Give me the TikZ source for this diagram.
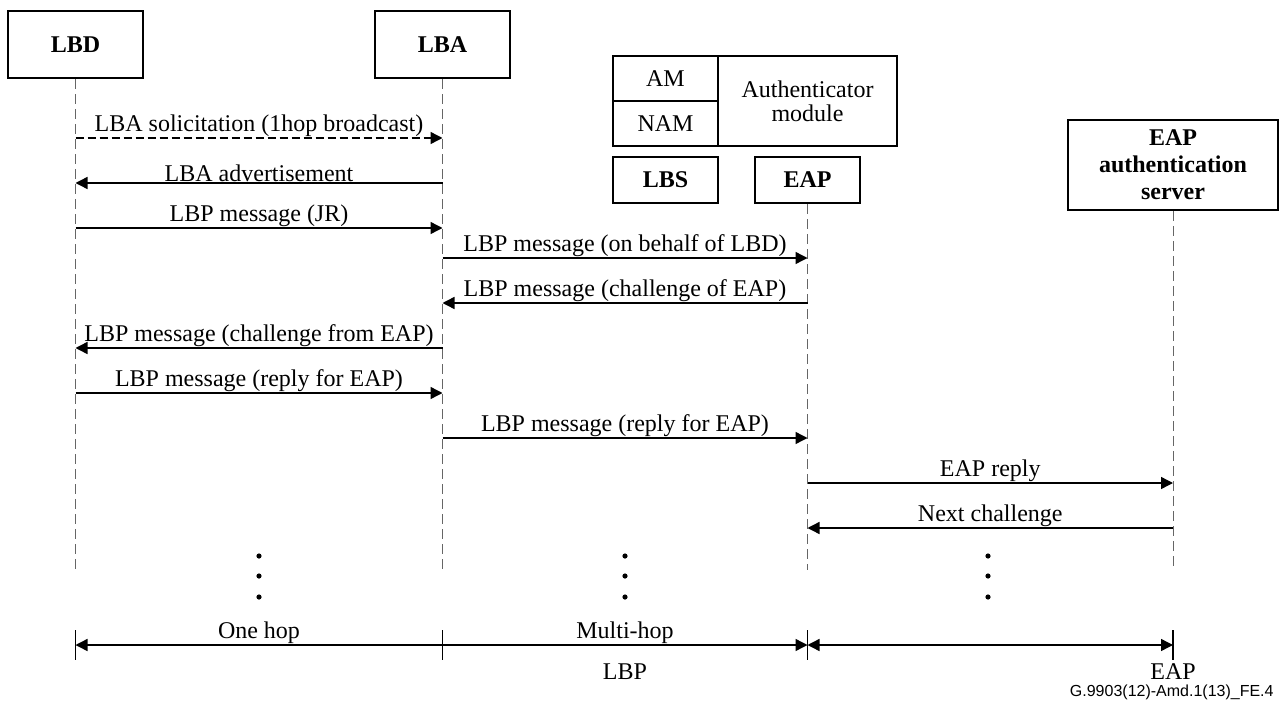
\documentclass[tikz,border=0pt]{standalone}
\usepackage{fontspec}
\setmainfont{Liberation Serif}
\newfontfamily\figfont{Liberation Sans}
\usetikzlibrary{arrows.meta, positioning}
\tikzset{
  ent/.style={
    rectangle, draw=black, line width=1pt, font=\fontsize{12}{13.5}\selectfont\bfseries,
    inner sep=0pt, minimum height=33.5pt
  },
  cell/.style={
    rectangle, draw=black, line width=0.9pt, inner sep=0pt, outer sep=0pt
  },
  life/.style={draw=black!60, line width=0.5pt, dash pattern=on 5pt off 2.5pt},
  msg/.style={-{Triangle[length=6pt,width=6pt]}, line width=0.7pt},
  req/.style={msg, dash pattern=on 4pt off 2pt},
  lbl/.style={above, inner sep=0.5pt},
  dimarr/.style={{Triangle[length=6pt,width=6pt]}-{Triangle[length=6pt,width=6pt]}, line width=0.7pt},
  tick/.style={line width=0.8pt}
}

\begin{document}
\begin{tikzpicture}[x=0.5pt, y=-0.5pt, font=\fontsize{12}{13.5}\selectfont]
\useasboundingbox (0,0) rectangle (1282,702);

% Entities
\node[ent, minimum width=67.5pt] (lbd) at (75.5,44.5) {LBD};
\node[ent, minimum width=67.5pt] (lba) at (442.5,44.5) {LBA};
\node[cell, minimum width=52.5pt, minimum height=22.5pt] (am) at (665.5,78.5) {AM};
\node[cell, minimum width=52.5pt, minimum height=22.5pt, below=0pt of am] (nam) {NAM};
\node[cell, minimum width=89.5pt, minimum height=45pt, align=center,
      font=\fontsize{12}{12}\selectfont] (authmod) at (807.5,101) {Authenticator\\module};
\node[ent, minimum width=52.5pt, minimum height=23pt] (lbs) at (665.5,180) {LBS};
\node[ent, minimum width=52.5pt, minimum height=23pt] (eap) at (807.5,180) {EAP};
\node[ent, minimum width=105pt, minimum height=45pt, align=center] (srv) at (1173,165)
      {EAP\\authentication\\server};

% Message rows and lifeline end
\foreach \n/\y in {1/138, 2/183, 3/228, 4/258, 5/303, 6/348, 7/393, 8/438, 9/483, 10/528}
  \coordinate (r\n) at (0,\y);
\coordinate (end) at (0,570);

% Lifelines
\draw[life] (lbd) -- (lbd |- end);
\draw[life] (lba) -- (lba |- end);
\draw[life] (eap) -- (eap |- end);
\draw[life] (srv) -- (srv |- end);

% Messages
\draw[req] (lbd |- r1) -- node[lbl] {LBA solicitation (1hop broadcast)} (lba |- r1);
\draw[msg] (lba |- r2) -- node[lbl] {LBA advertisement} (lbd |- r2);
\draw[msg] (lbd |- r3) -- node[lbl] {LBP message (JR)} (lba |- r3);
\draw[msg] (lba |- r4) -- node[lbl] {LBP message (on behalf of LBD)} (eap |- r4);
\draw[msg] (eap |- r5) -- node[lbl] {LBP message (challenge of EAP)} (lba |- r5);
\draw[msg] (lba |- r6) -- node[lbl] {LBP message (challenge from EAP)} (lbd |- r6);
\draw[msg] (lbd |- r7) -- node[lbl] {LBP message (reply for EAP)} (lba |- r7);
\draw[msg] (lba |- r8) -- node[lbl] {LBP message (reply for EAP)} (eap |- r8);
\draw[msg] (eap |- r9) -- node[lbl] {EAP reply} (srv |- r9);
\draw[msg] (srv |- r10) -- node[lbl] {Next challenge} (eap |- r10);

% Continuation dots
\foreach \x in {259, 625, 988}
  \foreach \y in {556, 576, 597}
    \fill (\x,\y) circle (1.3pt);

% Scope dimensions
\coordinate (dim) at (0,645);
\coordinate (tt) at (0,630);
\coordinate (tb) at (0,660);
\foreach \e in {lbd, lba, eap, srv}
  \draw[tick] (\e |- tt) -- (\e |- tb);
\draw[dimarr] (lbd |- dim) -- (eap |- dim);
\draw[dimarr] (eap |- dim) -- (srv |- dim);
\path (lbd |- dim) -- node[lbl] {One hop} (lba |- dim);
\path (lba |- dim) -- node[lbl] {Multi-hop} node[below=9pt, inner sep=0pt] {LBP} (eap |- dim);
\node[below=9pt, inner sep=0pt] (eaplbl) at (srv |- dim) {EAP};
\node[anchor=east, inner sep=0pt, font=\figfont\fontsize{8}{9}\selectfont] (figref) at (1274,692)
  {G.9903(12)-Amd.1(13)\_FE.4};

\end{tikzpicture}
\end{document}
